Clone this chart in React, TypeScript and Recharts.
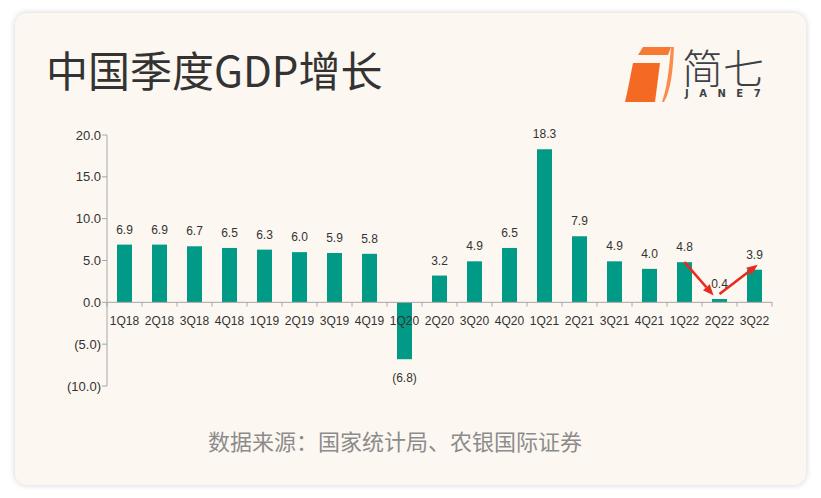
import { BarChart, Bar, XAxis, YAxis, LabelList, ReferenceLine } from "recharts";

const quarters = [
  "1Q18", "2Q18", "3Q18", "4Q18",
  "1Q19", "2Q19", "3Q19", "4Q19",
  "1Q20", "2Q20", "3Q20", "4Q20",
  "1Q21", "2Q21", "3Q21", "4Q21",
  "1Q22", "2Q22", "3Q22",
];
const growth = [
  6.9, 6.9, 6.7, 6.5,
  6.3, 6.0, 5.9, 5.8,
  -6.8, 3.2, 4.9, 6.5,
  18.3, 7.9, 4.9, 4.0,
  4.8, 0.4, 3.9,
];
const yTicks = [-10, -5, 0, 5, 10, 15, 20];

const data = quarters.map((q, i) => ({ q, v: growth[i] }));

const fmt = (v: number) => (v < 0 ? `(${Math.abs(v).toFixed(1)})` : v.toFixed(1));

const TEAL = "#009A87";
const AXIS = "#A6A6A6";
const NUM_FONT = "'Liberation Sans', Arial, sans-serif";

// bar rectangle from label props (recharts 3 passes viewBox)
function box(p: any) {
  const vb = p.viewBox && p.viewBox.width !== undefined ? p.viewBox : p;
  const x = Number(vb.x);
  const y = Number(vb.y);
  const w = Number(vb.width);
  const h = Number(vb.height);
  return { cx: x + w / 2, top: Math.min(y, y + h), bottom: Math.max(y, y + h) };
}

const ValueLabel = (p: any) => {
  const v = growth[p.index];
  const b = box(p);
  return (
    <text
      x={b.cx}
      y={v >= 0 ? b.top - 11 : b.bottom + 23}
      textAnchor="middle"
      fontSize={12}
      fontFamily={NUM_FONT}
      fill="#333"
    >
      {fmt(v)}
    </text>
  );
};

const QuarterLabel = (p: any) => {
  const v = growth[p.index];
  const b = box(p);
  const zero = v >= 0 ? b.bottom : b.top;
  return (
    <text x={b.cx} y={zero + 23} textAnchor="middle" fontSize={12} fontFamily={NUM_FONT} fill="#333">
      {quarters[p.index]}
    </text>
  );
};

// red annotation arrow; trim shortens the end (negative extends it)
const arrowShape = (trim: number) => (p: any) => {
  const { x1, y1, x2, y2 } = p;
  const dx = x2 - x1;
  const dy = y2 - y1;
  const len = Math.sqrt(dx * dx + dy * dy);
  const ux = dx / len;
  const uy = dy / len;
  const tx = x2 - ux * trim;
  const ty = y2 - uy * trim;
  const head = 11;
  const half = 4.5;
  const bx = tx - ux * head;
  const by = ty - uy * head;
  return (
    <g>
      <line x1={x1} y1={y1} x2={bx} y2={by} stroke="#EA2A1E" strokeWidth={2.6} />
      <polygon
        points={`${tx},${ty} ${bx - uy * half},${by + ux * half} ${bx + uy * half},${by - ux * half}`}
        fill="#EA2A1E"
      />
    </g>
  );
};

function Logo() {
  return (
    <>
      <svg width={60} height={84} style={{ position: "absolute", left: 620, top: 26 }}>
        <polygon points="23,21 51,21 48,29 18,29" fill="#F77A33" />
        <path d="M51,21 L54,21 C53,44 51,64 44,76 L42,76 C47,62 49,44 51,21 Z" fill="#F98C4A" />
        <path d="M13,37 L40,37 L35,76 L5,76 C8,64 10,52 13,37 Z" fill="#F46A22" />
      </svg>
      <div
        style={{
          position: "absolute",
          left: 682,
          top: 46,
          fontSize: 41,
          lineHeight: "41px",
          fontFamily: "'Noto Sans CJK SC', sans-serif",
          fontWeight: 300,
          color: "#3C4147",
          whiteSpace: "nowrap",
        }}
      >
        简七
      </div>
      <div
        style={{
          position: "absolute",
          left: 685,
          top: 89,
          fontSize: 10,
          lineHeight: "10px",
          fontFamily: "'DejaVu Sans', sans-serif",
          fontWeight: 700,
          letterSpacing: 10.5,
          color: "#3C4147",
          whiteSpace: "nowrap",
        }}
      >
        JANE7
      </div>
    </>
  );
}

export default function App() {
  return (
    <div style={{ position: "fixed", left: 0, top: 0, width: 821, height: 498, background: "#FFFFFF" }}>
      <div
        style={{
          position: "absolute",
          left: 15,
          top: 13,
          width: 791,
          height: 472,
          borderRadius: 12,
          background: "#FDF7F1",
          boxShadow: "0 0 6px rgba(0,0,0,0.18)",
        }}
      />
      <div
        style={{
          position: "absolute",
          left: 46,
          top: 48,
          fontSize: 42,
          lineHeight: "42px",
          fontFamily: "'Noto Sans CJK SC', sans-serif",
          color: "#333333",
          whiteSpace: "nowrap",
        }}
      >
        中国季度GDP增长
      </div>
      <Logo />
      <div
        style={{
          position: "absolute",
          left: 208,
          top: 429,
          fontSize: 22,
          lineHeight: "22px",
          fontFamily: "'Noto Sans CJK SC', sans-serif",
          color: "#8C8C8C",
          whiteSpace: "nowrap",
        }}
      >
        数据来源：国家统计局、农银国际证券
      </div>
      <div style={{ position: "absolute", left: 0, top: 0 }}>
        <BarChart
          width={821}
          height={498}
          data={data}
          margin={{ top: 135, right: 49, bottom: 112, left: 47 }}
        >
          <XAxis dataKey="q" hide />
          <YAxis
            width={60}
            domain={[-10, 20]}
            ticks={yTicks}
            tickFormatter={fmt}
            tick={{ fontSize: 13, fill: "#333", fontFamily: NUM_FONT }}
            axisLine={{ stroke: AXIS }}
            tickLine={{ stroke: AXIS }}
            tickSize={5}
            tickMargin={1}
            interval={0}
          />
          <ReferenceLine y={0} stroke={AXIS} />
          {quarters.map((q) => (
            <ReferenceLine
              key={q}
              segment={[{ x: q, y: 0 }, { x: q, y: -0.5 }]}
              position="start"
              stroke={AXIS}
            />
          ))}
          <ReferenceLine
            segment={[{ x: quarters[quarters.length - 1], y: 0 }, { x: quarters[quarters.length - 1], y: -0.5 }]}
            position="end"
            stroke={AXIS}
          />
          <Bar dataKey="v" fill={TEAL} barSize={15} isAnimationActive={false}>
            <LabelList dataKey="v" content={ValueLabel} />
            <LabelList dataKey="q" content={QuarterLabel} />
          </Bar>
          <ReferenceLine
            segment={[{ x: "1Q22", y: 4.8 }, { x: "2Q22", y: 0 }]}
            shape={arrowShape(9)}
          />
          <ReferenceLine
            segment={[{ x: "2Q22", y: 1.0 }, { x: "3Q22", y: 4.2 }]}
            shape={arrowShape(-4)}
          />
        </BarChart>
      </div>
    </div>
  );
}
